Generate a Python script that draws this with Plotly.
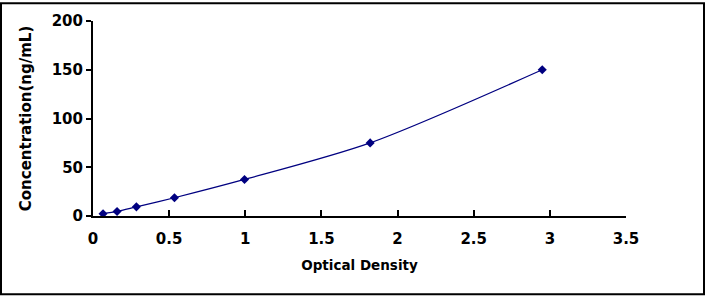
import plotly.graph_objects as go

od = [0.066, 0.158, 0.285, 0.535, 0.995, 1.82, 2.95]
conc = [2.34, 4.69, 9.38, 18.75, 37.5, 75, 150]

x_ticks = [0, 0.5, 1, 1.5, 2, 2.5, 3, 3.5]
x_labels = ["0", "0.5", "1", "1.5", "2", "2.5", "3", "3.5"]
y_ticks = [0, 50, 100, 150, 200]
y_labels = ["0", "50", "100", "150", "200"]

W, H = 705, 296
L, R, T, B = 93, 79, 19, 80
pw, ph = W - L - R, H - T - B

FAM = "DejaVu Sans, Liberation Sans, Arial, sans-serif"

fig = go.Figure()
fig.add_trace(go.Scatter(
    x=od, y=conc, mode="lines+markers",
    line=dict(color="#000080", width=1.2, shape="spline", smoothing=0.8),
    marker=dict(symbol="diamond", size=7, color="#000080"),
    showlegend=False,
))

fig.update_layout(
    width=W, height=H,
    margin=dict(l=L, r=R, t=T, b=B),
    paper_bgcolor="white", plot_bgcolor="white",
    font=dict(family=FAM, size=14, color="black"),
    xaxis=dict(
        range=[0, 3.5], tickvals=x_ticks, ticktext=x_labels,
        showline=True, linecolor="black", linewidth=2,
        ticks="inside", ticklen=6, tickwidth=2, tickcolor="black",
        ticklabelstandoff=8,
        showgrid=False, zeroline=False,
        tickfont=dict(family=FAM, size=15, color="black", weight="bold"),
        title=dict(text="Optical Density", standoff=14,
                   font=dict(family=FAM, size=13.5, color="black", weight="bold")),
    ),
    yaxis=dict(
        range=[0, 200], tickvals=y_ticks, ticktext=y_labels,
        showline=True, linecolor="black", linewidth=2,
        ticks="outside", ticklen=5, tickwidth=2, tickcolor="black",
        showgrid=False, zeroline=False,
        tickfont=dict(family=FAM, size=15, color="black", weight="bold"),
        title=dict(text="Concentration(ng/mL)", standoff=16,
                   font=dict(family=FAM, size=15, color="black", weight="bold")),
    ),
)

# outer border of the image
fig.add_shape(type="rect", xref="paper", yref="paper",
              x0=(1 - L) / pw, x1=(W - 1 - L) / pw,
              y0=(T + ph - (H - 1)) / ph, y1=(T + ph - 1) / ph,
              line=dict(color="black", width=2), fillcolor="rgba(0,0,0,0)", layer="above")

fig.write_html("out.html")
